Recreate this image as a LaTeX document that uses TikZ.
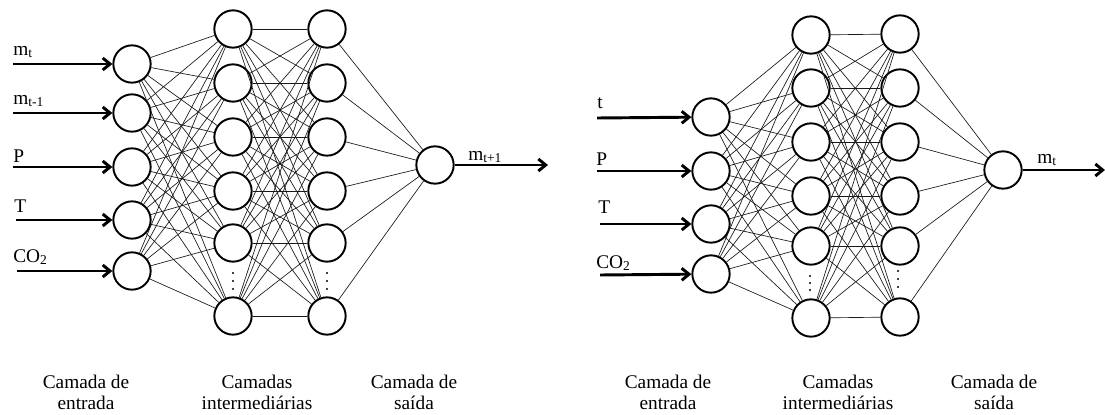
\documentclass[tikz,border=0pt]{standalone}
\usepackage{fontspec}
\setmainfont{Liberation Serif}
\usetikzlibrary{arrows.meta}
\begin{document}
\begin{tikzpicture}[x=0.75pt,y=-0.75pt,
  neuron/.style={circle,draw=black,line width=1.45pt,minimum size=28pt,inner sep=0pt,fill=white},
  link/.style={line width=0.5pt,draw=black!90},
  bigarrow/.style={line width=2.2pt,-{Straight Barb[length=5.5pt,width=9pt]}},
  lbl/.style={font=\fontsize{14.5}{16}\selectfont,anchor=base west,inner sep=0pt},
  layercaption/.style={font=\fontsize{14.5}{15.75}\selectfont,align=center,inner sep=0pt},
  vdot/.style={circle,fill=black,inner sep=0pt,minimum size=1.6pt}]
\useasboundingbox (0,0) rectangle (1105,414);

% ---------------- Left network ----------------
\foreach \y [count=\i] in {64,113,167,220,271}
  \node[neuron] (Li\i) at (132,\y) {};
\foreach \y [count=\i] in {29,83,137,191,243,316}
  \node[neuron] (La\i) at (233,\y) {};
\foreach \y [count=\i] in {29,83,137,191,243,316}
  \node[neuron] (Lb\i) at (327,\y) {};
\node[neuron] (Lo) at (435,165) {};

\foreach \i in {1,...,5}
  \foreach \j in {1,...,6}
    \draw[link] (Li\i) -- (La\j);
\foreach \i in {1,...,6}
  \foreach \j in {1,...,6}
    \draw[link] (La\i) -- (Lb\j);
\foreach \i in {1,...,6}
  \draw[link] (Lb\i) -- (Lo);

\foreach \y [count=\k] in {273,281,289} {
  \node[vdot] (Lda\k) at (233,\y) {};
  \node[vdot] (Ldb\k) at (327,\y) {};
}

\coordinate (Ls1) at (13,64);
\coordinate (Ls2) at (13,113);
\coordinate (Ls3) at (13,167);
\coordinate (Ls4) at (16,220);
\coordinate (Ls5) at (17,271);
\foreach \i in {1,...,5}
  \draw[bigarrow] (Ls\i) -- (Li\i);

\node[lbl] (Ll1) at (13,55) {m\textsubscript{t}};
\node[lbl] (Ll2) at (13,104) {m\textsubscript{t-1}};
\node[lbl] (Ll3) at (13,162) {P};
\node[lbl] (Ll4) at (14,212) {T};
\node[lbl] (Ll5) at (13,262) {CO\textsubscript{2}};

\coordinate (Le) at (548,165);
\draw[bigarrow] (Lo) -- (Le);
\node[lbl] (Lol) at (468,160) {m\textsubscript{t+1}};

\node[layercaption] (Lc1) at (86,392) {Camada de\\entrada};
\node[layercaption] (Lc2) at (257,392) {Camadas\\intermediárias};
\node[layercaption] (Lc3) at (414,392) {Camada de\\saída};

% ---------------- Right network ----------------
\foreach \y [count=\i] in {117,171,224,274}
  \node[neuron] (Ri\i) at (711,\y) {};
\foreach \y [count=\i] in {35,88,142,196,246,318}
  \node[neuron] (Ra\i) at (811,\y) {};
\foreach \y [count=\i] in {34,88,142,196,246,317}
  \node[neuron] (Rb\i) at (900,\y) {};
\node[neuron] (Ro) at (1003,170) {};

\foreach \i in {1,...,4}
  \foreach \j in {1,...,6}
    \draw[link] (Ri\i) -- (Ra\j);
\foreach \i in {1,...,6}
  \foreach \j in {1,...,6}
    \draw[link] (Ra\i) -- (Rb\j);
\foreach \i in {1,...,6}
  \draw[link] (Rb\i) -- (Ro);

\foreach \y [count=\k] in {276,283,290} {
  \node[vdot] (Rda\k) at (810,\y) {};
}
\foreach \y [count=\k] in {271,279,287} {
  \node[vdot] (Rdb\k) at (898,\y) {};
}

\coordinate (Rs1) at (597,118);
\coordinate (Rs2) at (597,171);
\coordinate (Rs3) at (600,224);
\coordinate (Rs4) at (600,275);
\foreach \i in {1,...,4}
  \draw[bigarrow] (Rs\i) -- (Ri\i);

\node[lbl] (Rl1) at (597,108) {t};
\node[lbl] (Rl2) at (596,165) {P};
\node[lbl] (Rl3) at (598,213) {T};
\node[lbl] (Rl4) at (596,268) {CO\textsubscript{2}};

\coordinate (Re) at (1105,170);
\draw[bigarrow] (Ro) -- (Re);
\node[lbl] (Rol) at (1037,163) {m\textsubscript{t}};

\node[layercaption] (Rc1) at (668,392) {Camada de\\entrada};
\node[layercaption] (Rc2) at (838,392) {Camadas\\intermediárias};
\node[layercaption] (Rc3) at (994,392) {Camada de\\saída};
\end{tikzpicture}
\end{document}
